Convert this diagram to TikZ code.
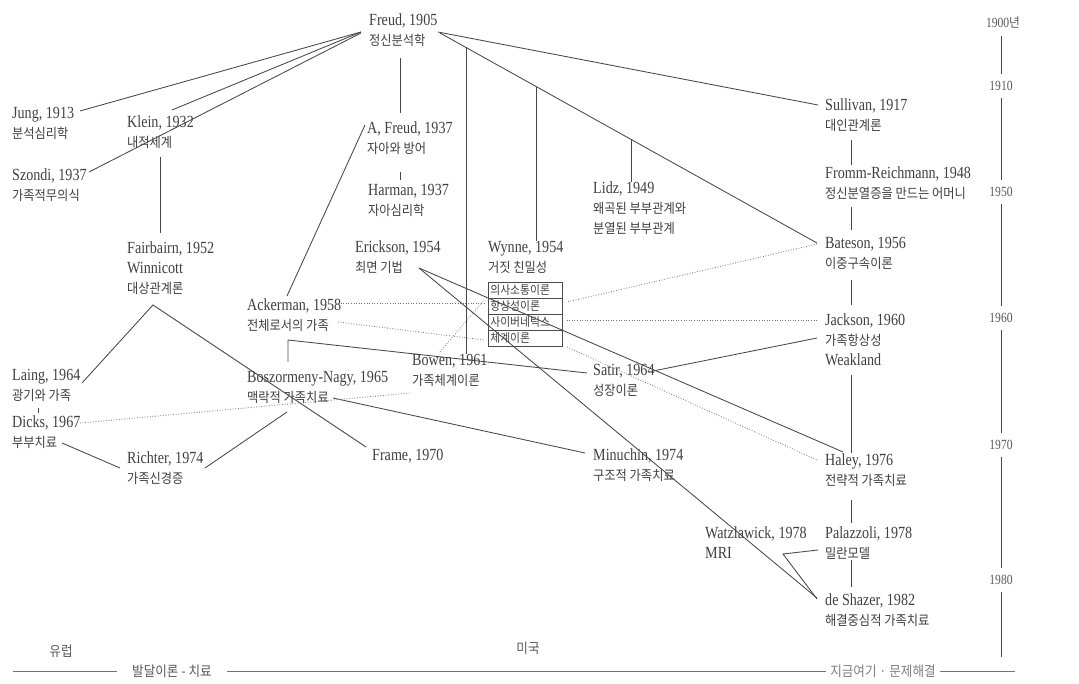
\documentclass[tikz,border=0pt]{standalone}
\usepackage{fontspec}
\setmainfont{Liberation Serif}[FakeStretch=0.83]
\newfontfamily\krfont{Noto Sans CJK KR}[FakeStretch=0.9]
\newcommand\kr{\krfont\fontsize{13.6}{20}\selectfont}
\usetikzlibrary{calc}
\tikzset{
  lbl/.style={anchor=north west, inner sep=0pt, align=left, text=black!75,
    font=\fontsize{17}{20}\selectfont},
  yr/.style={inner xsep=0pt, inner ysep=7pt, text=black!65,
    font=\fontsize{14}{16}\selectfont},
  link/.style={draw=black!72, line width=0.85pt},
  dots/.style={draw=black!55, line width=0.8pt, dash pattern=on 0.8pt off 1.8pt},
  boxrow/.style={anchor=north west, draw=black!70, line width=0.7pt, text width=70pt,
    inner xsep=2pt, inner ysep=0pt, minimum height=16pt, align=left, text=black!75,
    font=\krfont\fontsize{12}{12}\selectfont},
  foot/.style={text=black!65, font=\krfont\fontsize{14}{15}\selectfont},
  footline/.style={draw=black!55, line width=0.9pt},
}
\begin{document}
\begin{tikzpicture}[x=1pt,y=-1pt]
\useasboundingbox (0,0) rectangle (1079,684);
\fill[white] (0,0) rectangle (1079,684);

% ---------- nodes ----------
\node[lbl] (freud) at (369,14) {Freud, 1905\\{\kr 정신분석학}};
\node[lbl] (jung) at (12,107) {Jung, 1913\\{\kr 분석심리학}};
\node[lbl] (klein) at (127,116) {Klein, 1932\\{\kr 내적세계}};
\node[lbl] (szondi) at (12,169) {Szondi, 1937\\{\kr 가족적무의식}};
\node[lbl] (afreud) at (367,122) {A, Freud, 1937\\{\kr 자아와 방어}};
\node[lbl] (harman) at (368,184) {Harman, 1937\\{\kr 자아심리학}};
\node[lbl] (lidz) at (593,182) {Lidz, 1949\\{\kr 왜곡된 부부관계와}\\{\kr 분열된 부부관계}};
\node[lbl] (sullivan) at (825,99) {Sullivan, 1917\\{\kr 대인관계론}};
\node[lbl] (fromm) at (825,167) {Fromm-Reichmann, 1948\\{\kr 정신분열증을 만드는 어머니}};
\node[lbl] (bateson) at (825,237) {Bateson, 1956\\{\kr 이중구속이론}};
\node[lbl] (erickson) at (355,241) {Erickson, 1954\\{\kr 최면 기법}};
\node[lbl] (wynne) at (488,241) {Wynne, 1954\\{\kr 거짓 친밀성}};
\node[lbl] (fairbairn) at (127,242) {Fairbairn, 1952\\Winnicott\\{\kr 대상관계론}};
\node[lbl] (ackerman) at (247,299) {Ackerman, 1958\\{\kr 전체로서의 가족}};
\node[lbl] (jackson) at (825,314) {Jackson, 1960\\{\kr 가족항상성}\\Weakland};
\node[lbl] (bowen) at (412,354) {Bowen, 1961\\{\kr 가족체계이론}};
\node[lbl] (satir) at (593,364) {Satir, 1964\\{\kr 성장이론}};
\node[lbl] (laing) at (12,369) {Laing, 1964\\{\kr 광기와 가족}};
\node[lbl] (bnagy) at (247,371) {Boszormeny-Nagy, 1965\\{\kr 맥락적 가족치료}};
\node[lbl] (dicks) at (12,416) {Dicks, 1967\\{\kr 부부치료}};
\node[lbl] (richter) at (127,452) {Richter, 1974\\{\kr 가족신경증}};
\node[lbl] (frame) at (372,449) {Frame, 1970};
\node[lbl] (minuchin) at (593,449) {Minuchin, 1974\\{\kr 구조적 가족치료}};
\node[lbl] (haley) at (825,454) {Haley, 1976\\{\kr 전략적 가족치료}};
\node[lbl] (watz) at (705,527) {Watzlawick, 1978\\MRI};
\node[lbl] (palazzoli) at (825,527) {Palazzoli, 1978\\{\kr 밀란모델}};
\node[lbl] (deshazer) at (825,594) {de Shazer, 1982\\{\kr 해결중심적 가족치료}};

\node[boxrow] (box1) at (488,282) {의사소통이론};
\node[boxrow] (box2) at (488,298) {항상성이론};
\node[boxrow] (box3) at (488,314) {사이버네틱스};
\node[boxrow] (box4) at (488,330) {체계이론};

% ---------- timeline ----------
\node[yr] (t1900) at (1003,23) {1900{\krfont\fontsize{13}{14}\selectfont 년}};
\node[yr] (t1910) at (1001,86) {1910};
\node[yr] (t1950) at (1001,192) {1950};
\node[yr] (t1960) at (1001,318) {1960};
\node[yr] (t1970) at (1001,445) {1970};
\node[yr] (t1980) at (1001,580) {1980};
\coordinate (tend) at (1001,657);
\draw[link] (t1900.south -| t1910) -- (t1910.north);
\draw[link] (t1910.south) -- (t1950.north);
\draw[link] (t1950.south) -- (t1960.north);
\draw[link] (t1960.south) -- (t1970.north);
\draw[link] (t1970.south) -- (t1980.north);
\draw[link] (t1980.south) -- (tend);

% ---------- bottom ----------
\node[foot] (eu) at (61,651) {유럽};
\node[foot] (us) at (528,648) {미국};
\node[foot, inner xsep=15pt] (dev) at (172,671) {발달이론 - 치료};
\node[foot, inner xsep=4pt, text=black!50] (hn) at (883,671) {지금여기 · 문제해결};
\coordinate (bl) at (13,671);
\coordinate (br) at (1015,671);
\draw[footline] (bl) -- (dev.west);
\draw[footline] (dev.east) -- (hn.west);
\draw[footline] (hn.east) -- (br);

% ---------- solid connectors ----------
\draw[link] ([shift={(-8,18)}]freud.north west) -- ([shift={(68,4)}]jung.north west);
\draw[link] ([shift={(-8,18)}]freud.north west) -- ([shift={(45,-6)}]klein.north west);
\draw[link] ([shift={(-8,19)}]freud.north west) -- ([shift={(77,3)}]szondi.north west);
\draw[link] ([shift={(31,44)}]freud.north west) -- ([shift={(33,-9)}]afreud.north west);
\draw[link] ([shift={(33,50)}]afreud.north west) -- ([shift={(32,-4)}]harman.north west);
\draw[link] ([shift={(69,18)}]freud.north west) -- ([shift={(-7,6)}]sullivan.north west);
\draw[link] ([shift={(71,19)}]freud.north west)
  -- coordinate[pos=0.069] (v1) coordinate[pos=0.255] (v2) coordinate[pos=0.507] (v3)
  ([shift={(-8,6)}]bateson.north west);
\draw[link] (v1) -- (v1 |- bowen.north west);
\draw[link] (v2) -- (v2 |- wynne.north west);
\draw[link] (v3) -- (v3 |- lidz.north west);

\draw[link] ([shift={(26,41)}]sullivan.north west) -- ([shift={(26,-2)}]fromm.north west);
\draw[link] ([shift={(26,40)}]fromm.north west) -- ([shift={(26,-7)}]bateson.north west);
\draw[link] ([shift={(26,43)}]bateson.north west) -- ([shift={(26,-9)}]jackson.north west);
\draw[link] ([shift={(26,61)}]jackson.north west) -- ([shift={(26,-1)}]haley.north west);
\draw[link] ([shift={(26,46)}]haley.north west) -- ([shift={(26,-4)}]palazzoli.north west);
\draw[link] ([shift={(26,33)}]palazzoli.north west) -- ([shift={(26,-7)}]deshazer.north west);

\draw[link] ([shift={(33,41)}]klein.north west) -- ([shift={(33,-9)}]fairbairn.north west);
\draw[link] ([shift={(70,14)}]laing.north west) -- ([shift={(26,63)}]fairbairn.north west)
  -- ([shift={(-6,-2)}]frame.north west);
\draw[link] ([shift={(-2,3)}]afreud.north west) -- ([shift={(40,-3)}]ackerman.north west);
\draw[link] ([shift={(41,-9)}]bnagy.north west) -- ([shift={(41,-31)}]bnagy.north west)
  -- ([shift={(-6,9)}]satir.north west);
\draw[link] ([shift={(86,27)}]bnagy.north west) -- ([shift={(-8,4)}]minuchin.north west);
\draw[link] ([shift={(50,27)}]dicks.north west) -- ([shift={(-7,16)}]richter.north west);
\draw[link] ([shift={(78,16)}]richter.north west) -- ([shift={(40,41)}]bnagy.north west);
\draw[link] ([shift={(26,39)}]laing.north west) -- ([shift={(26,-3)}]dicks.north west);
\draw[link] ([shift={(64,27)}]erickson.north west) -- ([shift={(18,-2)}]haley.north west);
\draw[link] ([shift={(64,27)}]erickson.north west) -- ([shift={(-8,4)}]deshazer.north west);
\draw[link] ([shift={(-7,23)}]palazzoli.north west) -- ([shift={(78,27)}]watz.north west)
  -- ([shift={(-8,5)}]deshazer.north west);
\draw[link] ([shift={(60,7)}]satir.north west) -- ([shift={(-8,24)}]jackson.north west);

% ---------- dotted connectors ----------
\draw[dots] ([shift={(-8,7)}]bateson.north west) -- ([shift={(79,4)}]box2.north west);
\draw[dots] ([shift={(-8,6)}]jackson.north west) -- ([shift={(78,6)}]box3.north west);
\draw[dots] ([shift={(91,4)}]ackerman.north west) -- ([shift={(-4,5)}]box2.north west);
\draw[dots] ([shift={(91,23)}]ackerman.north west) -- ([shift={(-4,10)}]box4.north west);
\draw[dots] ([shift={(28,-2)}]bowen.north west) -- ([shift={(-4,2)}]box2.north west);
\draw[dots] ([shift={(79,17)}]box4.north west) -- ([shift={(-8,6)}]haley.north west);
\draw[dots] ([shift={(68,7)}]dicks.north west) -- ([shift={(-2,39)}]bowen.north west);
\end{tikzpicture}
\end{document}
